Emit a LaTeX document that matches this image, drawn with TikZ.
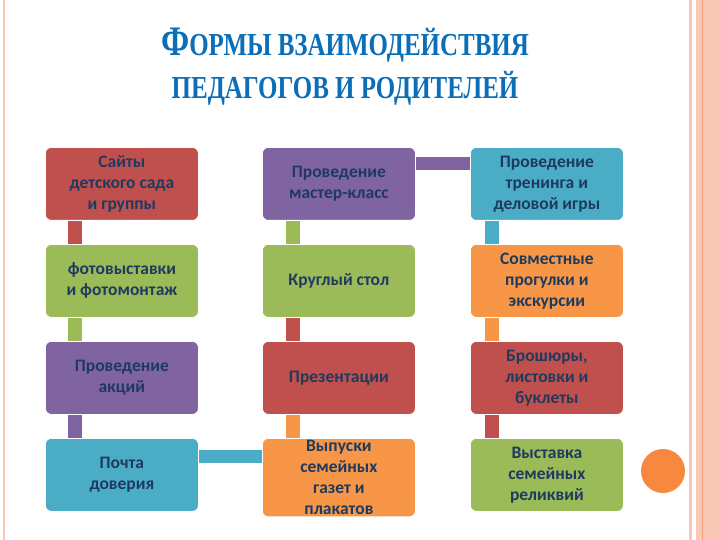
\documentclass[tikz,border=0pt]{standalone}
\usepackage{fontspec}
\setmainfont{Liberation Serif}
\newfontfamily\boxfont{Carlito}
\definecolor{cred}{HTML}{C0504D}
\definecolor{cgreen}{HTML}{9BBB59}
\definecolor{cpurple}{HTML}{8064A2}
\definecolor{cteal}{HTML}{4BACC6}
\definecolor{corange}{HTML}{F79646}
\definecolor{ctext}{HTML}{1F3A5F}
\definecolor{ctitle}{HTML}{0A6EB8}
\definecolor{salmon}{HTML}{F9C9B5}
\definecolor{salmond}{HTML}{F0A07F}
\begin{document}
\begin{tikzpicture}[x=1pt,y=-1pt,
  bx/.style={draw=white,line width=0.8pt,rounded corners=6pt,minimum width=153pt,minimum height=73pt,
    inner sep=2pt,align=center,text=ctext,font=\boxfont\bfseries\fontsize{17.5}{21}\selectfont,anchor=north west},
  lnk/.style={line width=14pt}]
\useasboundingbox (0,0) rectangle (720,540);
\fill[white] (0,0) rectangle (720,540);
% borders
\fill[salmon] (3,0) rectangle (5,540);
\fill[salmon] (689,0) rectangle (692,540);
\fill[salmon] (696,0) rectangle (720,540);
\fill[salmond] (701.5,0) rectangle (703,540);
\fill[corange!90!red] (663,471) circle (22);
% title
\node[text=ctitle,font=\bfseries,xscale=0.78,transform shape] (t1) at (345,45)
  {\fontsize{42}{42}\selectfont Ф\fontsize{32}{32}\selectfont ОРМЫ ВЗАИМОДЕЙСТВИЯ};
\node[text=ctitle,font=\bfseries,xscale=0.78,transform shape] (t2) at (345,88)
  {\fontsize{32}{32}\selectfont ПЕДАГОГОВ И РОДИТЕЛЕЙ};
% links first
\coordinate (l1) at (75,220); \coordinate (l2) at (75,245);
\draw[lnk,cred] (75,219) -- (75,246);
\draw[lnk,cgreen] (75,317) -- (75,343);
\draw[lnk,cpurple] (75,413) -- (75,439);
\draw[lnk,cgreen] (293,219) -- (293,246);
\draw[lnk,cred] (293,317) -- (293,343);
\draw[lnk,corange] (293,413) -- (293,439);
\draw[lnk,cteal] (492,219) -- (492,246);
\draw[lnk,corange] (492,317) -- (492,343);
\draw[lnk,cred] (492,413) -- (492,439);
\draw[lnk,line width=13pt,cpurple] (414,163.5) -- (471,163.5);
\draw[lnk,line width=13pt,cteal] (197,456) -- (263,456);
% boxes
\node[bx,fill=cred] (a1) at (45,147) {Сайты\\детского сада\\и группы};
\node[bx,fill=cgreen] (a2) at (45,244) {фотовыставки\\и фотомонтаж};
\node[bx,fill=cpurple] (a3) at (45,341) {Проведение\\акций};
\node[bx,fill=cteal] (a4) at (45,438) {Почта\\доверия};
\node[bx,fill=cpurple] (b1) at (262,147) {Проведение\\мастер-класс};
\node[bx,fill=cgreen] (b2) at (262,244) {Круглый стол};
\node[bx,fill=cred] (b3) at (262,341) {Презентации};
\node[bx,fill=corange] (b4) at (262,438) {Выпуски\\семейных\\газет и\\плакатов};
\node[bx,fill=cteal] (c1) at (470,147) {Проведение\\тренинга и\\деловой игры};
\node[bx,fill=corange] (c2) at (470,244) {Совместные\\прогулки и\\экскурсии};
\node[bx,fill=cred] (c3) at (470,341) {Брошюры,\\листовки и\\буклеты};
\node[bx,fill=cgreen] (c4) at (470,438) {Выставка\\семейных\\реликвий};
\end{tikzpicture}
\end{document}
